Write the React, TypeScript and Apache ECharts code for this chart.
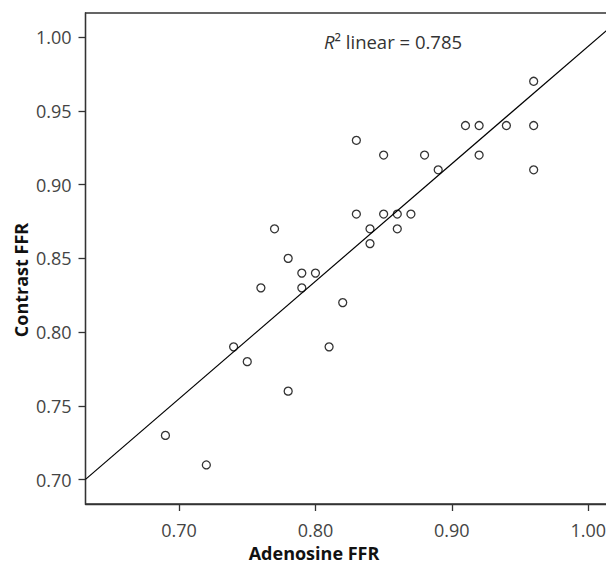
import React, { useEffect, useRef } from "react";
import * as echarts from "echarts";

const adenosineFFR = [0.69, 0.72, 0.74, 0.75, 0.76, 0.77, 0.78, 0.78, 0.79, 0.79, 0.80, 0.81, 0.82, 0.83, 0.83, 0.84, 0.84, 0.85, 0.85, 0.86, 0.86, 0.87, 0.88, 0.89, 0.91, 0.92, 0.92, 0.94, 0.96, 0.96, 0.96];
const contrastFFR = [0.73, 0.71, 0.79, 0.78, 0.83, 0.87, 0.85, 0.76, 0.84, 0.83, 0.84, 0.79, 0.82, 0.93, 0.88, 0.87, 0.86, 0.92, 0.88, 0.88, 0.87, 0.88, 0.92, 0.91, 0.94, 0.94, 0.92, 0.94, 0.97, 0.94, 0.91];
const xTicks = [0.70, 0.80, 0.90, 1.00];
const yTicks = [0.70, 0.75, 0.80, 0.85, 0.90, 0.95, 1.00];
const xRange = [0.6314, 1.02];
const yRange = [0.6835, 1.0163];
const xTitle = "Adenosine FFR";
const yTitle = "Contrast FFR";
const r2Label = "0.785";

function fitLine(xs: number[], ys: number[]) {
  const n = xs.length;
  const mx = xs.reduce((a, b) => a + b, 0) / n;
  const my = ys.reduce((a, b) => a + b, 0) / n;
  let sxy = 0, sxx = 0;
  for (let i = 0; i < n; i++) {
    sxy += (xs[i] - mx) * (ys[i] - my);
    sxx += (xs[i] - mx) * (xs[i] - mx);
  }
  const slope = sxy / sxx;
  return { slope, intercept: my - slope * mx };
}

export default function App() {
  const ref = useRef<HTMLDivElement>(null);
  useEffect(() => {
    if (!ref.current) return;
    const chart = echarts.init(ref.current, undefined, { renderer: "svg" });
    const { slope, intercept } = fitLine(adenosineFFR, contrastFFR);
    const lineData = xRange.map((x) => [x, intercept + slope * x]);
    const axisColor = "#333";
    const labelStyle = { fontFamily: "Open Sans", fontSize: 18, color: "#444" };
    chart.setOption({
      animation: false,
      backgroundColor: "#fff",
      grid: {
        left: 85.5, top: 13, width: 530, height: 491,
        outerBoundsMode: "none",
        containLabel: false,
        show: true, borderColor: axisColor, borderWidth: 1.3,
      },
      xAxis: {
        type: "value", min: xRange[0], max: xRange[1],
        splitLine: { show: false },
        axisLine: { show: true, onZero: false, lineStyle: { color: axisColor, width: 1.3 } },
        axisTick: { show: true, length: 7, customValues: xTicks, lineStyle: { color: axisColor, width: 1.3 } },
        axisLabel: { ...labelStyle, customValues: xTicks, margin: 17, hideOverlap: false, formatter: (v: number) => v.toFixed(2) },
      },
      yAxis: {
        type: "value", min: yRange[0], max: yRange[1],
        splitLine: { show: false },
        axisLine: { show: true, onZero: false, lineStyle: { color: axisColor, width: 1.3 } },
        axisTick: { show: true, length: 7, customValues: yTicks, lineStyle: { color: axisColor, width: 1.3 } },
        axisLabel: { ...labelStyle, customValues: yTicks, margin: 14, formatter: (v: number) => v.toFixed(2) },
      },
      series: [
        {
          type: "line",
          data: lineData,
          symbol: "none",
          lineStyle: { color: "#000", width: 1.2 },
          z: 2,
        },
        {
          type: "scatter",
          data: adenosineFFR.map((x, i) => [x, contrastFFR[i]]),
          symbol: "circle",
          symbolSize: 8,
          itemStyle: { color: "rgba(0,0,0,0)", borderColor: "#000", borderWidth: 1.3 },
          z: 3,
        },
      ],
      graphic: [
        {
          type: "text", x: 314, y: 552.5,
          style: { text: xTitle, fontFamily: "Open Sans", fontWeight: "bold", fontSize: 18, fill: "#111", align: "center", verticalAlign: "middle" },
        },
        {
          type: "text", x: 20.5, y: 280, rotation: Math.PI / 2,
          style: { text: yTitle, fontFamily: "Open Sans", fontWeight: "bold", fontSize: 18, fill: "#111", align: "center", verticalAlign: "middle" },
        },
        {
          type: "text", x: 324, y: 41,
          style: {
            text: "{i|R}{n|² linear = " + r2Label + "}",
            align: "left", verticalAlign: "middle",
            rich: {
              i: { fontFamily: "Open Sans", fontStyle: "italic", fontSize: 18.5, fill: "#333" },
              n: { fontFamily: "Open Sans", fontSize: 18.5, fill: "#333" },
            },
          },
        },
      ],
    });
    return () => chart.dispose();
  }, []);
  return <div ref={ref} style={{ position: "fixed", left: 0, top: 0, width: 606, height: 565 }} />;
}
